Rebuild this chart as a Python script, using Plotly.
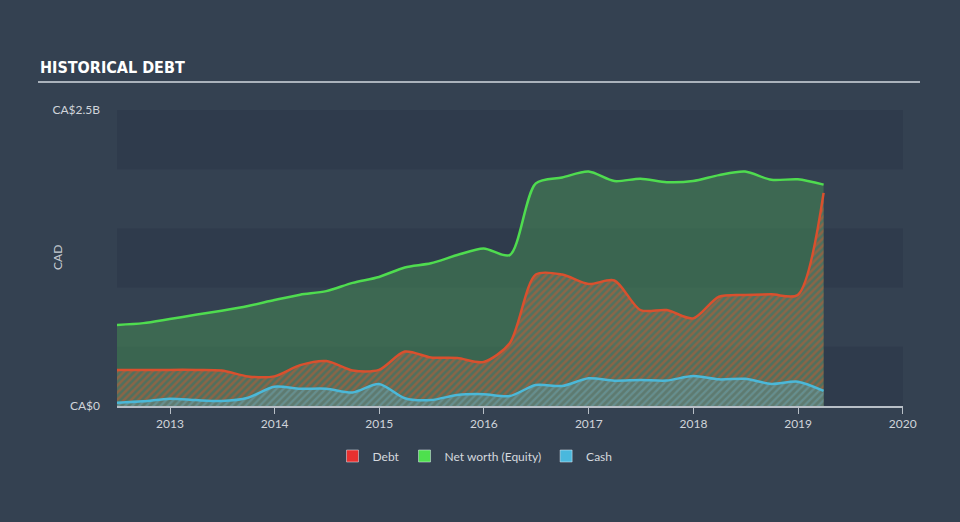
import plotly.graph_objects as go

dates = ["2012-06-30", "2012-09-30", "2012-12-31", "2013-03-31", "2013-06-30", "2013-09-30",
         "2013-12-31", "2014-03-31", "2014-06-30", "2014-09-30", "2014-12-31", "2015-03-31",
         "2015-06-30", "2015-09-30", "2015-12-31", "2016-03-31", "2016-06-30", "2016-09-30",
         "2016-12-31", "2017-03-31", "2017-06-30", "2017-09-30", "2017-12-31", "2018-03-31",
         "2018-06-30", "2018-09-30", "2018-12-31", "2019-03-31"]

equity = [0.684, 0.70, 0.735, 0.77, 0.805, 0.845, 0.895, 0.94, 0.97, 1.04, 1.09, 1.17,
          1.205, 1.275, 1.33, 1.275, 1.88, 1.93, 1.98, 1.90, 1.92, 1.89, 1.90, 1.95,
          1.98, 1.91, 1.915, 1.87]
debt = [0.304, 0.304, 0.305, 0.305, 0.30, 0.25, 0.25, 0.345, 0.38, 0.30, 0.305, 0.46,
        0.41, 0.405, 0.372, 0.53, 1.11, 1.11, 1.03, 1.06, 0.81, 0.81, 0.74, 0.923,
        0.938, 0.943, 0.938, 1.80]
cash = [0.028, 0.04, 0.062, 0.05, 0.042, 0.07, 0.163, 0.146, 0.146, 0.115, 0.186, 0.065,
        0.05, 0.093, 0.10, 0.084, 0.177, 0.169, 0.234, 0.214, 0.22, 0.215, 0.253, 0.225,
        0.23, 0.186, 0.205, 0.127]

y_tick_vals = [0, 2.5]
y_tick_text = ["CA$0", "CA$2.5B"]
legend_names = ["Debt", "Net worth (Equity)", "Cash"]
legend_colors = ["#e8302f", "#4ee04e", "#4ab8dd"]

PAGE_BG = "#344151"
BAND = "#2f3b4c"
PW, PH = 786, 296

fig = go.Figure()

fig.add_trace(go.Scatter(
    x=dates, y=equity, mode="lines", showlegend=False, hoverinfo="skip",
    line=dict(color="#4fdc4f", width=2.5, shape="spline", smoothing=0.8),
    fill="tozeroy", fillcolor="rgba(69,143,84,0.5)",
))
fig.add_trace(go.Scatter(
    x=dates, y=debt, mode="lines", showlegend=False, hoverinfo="skip",
    line=dict(color="#d9502e", width=2.5, shape="spline", smoothing=0.8),
    fill="tozeroy",
    fillpattern=dict(shape="/", fgcolor="#c4592f", bgcolor="rgba(120,130,120,0.35)",
                     size=5, solidity=0.5),
))
fig.add_trace(go.Scatter(
    x=dates, y=cash, mode="lines", showlegend=False, hoverinfo="skip",
    line=dict(color="#4bb8d8", width=2.5, shape="spline", smoothing=0.8),
    fill="tozeroy",
    fillpattern=dict(shape="/", fgcolor="#55a8b8", bgcolor="rgba(100,130,125,0.6)",
                     size=5, solidity=0.45),
))

for name, col in zip(legend_names, legend_colors):
    fig.add_trace(go.Bar(x=[None], y=[None], name=name, marker_color=col, showlegend=True))

shapes = []
for y0 in [0, 1.0, 2.0]:
    shapes.append(dict(type="rect", xref="paper", yref="y", x0=0, x1=1, y0=y0, y1=y0 + 0.5,
                       fillcolor=BAND, line=dict(width=0), layer="below"))
shapes.append(dict(type="line", xref="paper", yref="paper", x0=-79 / PW, x1=1 + 17 / PW,
                   y0=1 + 28 / PH, y1=1 + 28 / PH, line=dict(color="#aab2bb", width=2)))

fig.update_layout(
    width=960, height=522,
    paper_bgcolor=PAGE_BG, plot_bgcolor=PAGE_BG,
    margin=dict(l=117, r=57, t=110, b=116, autoexpand=False),
    shapes=shapes,
    showlegend=True,
    legend=dict(orientation="h", x=(475 - 117) / PW, xanchor="center",
                y=-50 / PH, yanchor="middle",
                font=dict(family="Lato, Roboto, sans-serif", size=12, color="#d5d9de"),
                bgcolor="rgba(0,0,0,0)", itemwidth=30, tracegroupgap=0),
    annotations=[
        dict(text="<b>HISTORICAL DEBT</b>", xref="paper", yref="paper",
             x=-79 / PW, y=1 + 43 / PH, xanchor="left", yanchor="middle", showarrow=False,
             font=dict(family="Liberation Sans Narrow, DejaVu Sans Condensed, Roboto Condensed, Roboto",
                       size=16, color="#ffffff")),
        dict(text="CAD", xref="paper", yref="paper", x=-60 / PW, y=0.5, textangle=-90,
             xanchor="center", yanchor="middle", showarrow=False,
             font=dict(family="Lato, Roboto, sans-serif", size=12, color="#c8cdd3")),
    ],
    font=dict(family="Lato, Roboto, sans-serif", color="#c8cdd3", size=12),
)

fig.update_xaxes(
    type="date", range=["2012-06-30", "2020-01-02"],
    dtick="M12", tick0="2013-01-01", tickformat="%Y", tickangle=0,
    showgrid=False, zeroline=False,
    showline=True, linecolor="#b8bfc7", linewidth=1.5,
    ticks="outside", ticklen=6, tickcolor="#b8bfc7",
    tickfont=dict(size=12, color="#d0d4da"),
)
fig.update_yaxes(
    range=[0, 2.5], tickvals=y_tick_vals, ticktext=y_tick_text,
    showgrid=False, zeroline=False, showline=False, ticks="",
    ticklabelstandoff=16,
    tickfont=dict(size=12, color="#d0d4da"),
)

fig.write_html("out.html")
